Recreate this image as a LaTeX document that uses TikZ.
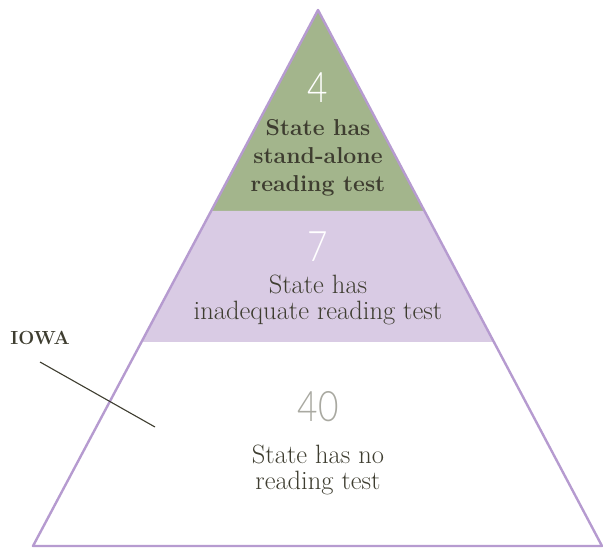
\documentclass[tikz,border=0pt]{standalone}
\usepackage{fontspec}
\newfontfamily\numfont{Lato Light}
\definecolor{pgreen}{HTML}{A3B58C}
\definecolor{plav}{HTML}{D9CBE4}
\definecolor{pedge}{HTML}{B69BD0}
\definecolor{ptext}{HTML}{3E3D30}
\definecolor{pgray}{HTML}{A9A9A1}
\newcommand{\numtxt}[1]{\scalebox{0.84}[1]{#1}}
\begin{document}
\begin{tikzpicture}[x=1pt,y=-1pt,
  num/.style={font=\numfont\fontsize{42}{44}\selectfont, inner sep=0pt},
  lbl/.style={font=\fontsize{26.5}{26.5}\selectfont, text=ptext, align=center, inner sep=0pt},
  blbl/.style={font=\bfseries\fontsize{23}{28}\selectfont, text=ptext, align=center, inner sep=0pt}]
\useasboundingbox (0,0) rectangle (603,548);
\coordinate (apex) at (318,10);
\coordinate (bl) at (33,546);
\coordinate (br) at (602,546);
\coordinate (g1) at (211.1,211);
\coordinate (g2) at (424.9,211);
\coordinate (l1) at (141.5,342);
\coordinate (l2) at (494.5,342);
\fill[pgreen] (apex) -- (g1) -- (g2) -- cycle;
\fill[plav] (g1) -- (l1) -- (l2) -- (g2) -- cycle;
\draw[pedge, line width=2.4pt, line join=round] (apex) -- (bl) -- (br) -- cycle;
\node[num, text=white] (n4) at (318,88) {\numtxt{4}};
\node[blbl] (t4) at (318,158) {State has\\stand-alone\\reading test};
\node[num, text=white] (n7) at (318,247) {\numtxt{7}};
\node[lbl] (t7) at (318,300) {State has\\inadequate reading test};
\node[num, text=pgray] (n40) at (318,407) {\numtxt{40}};
\node[lbl] (t40) at (318,470) {State has no\\reading test};
\node[font=\bfseries\fontsize{19}{21}\selectfont, text=ptext, inner sep=0pt] (iowa) at (40,338) {IOWA};
\coordinate (ia) at (40,362);
\coordinate (ib) at (155,427);
\draw[ptext, line width=1.1pt] (ia) -- (ib);
\end{tikzpicture}
\end{document}
